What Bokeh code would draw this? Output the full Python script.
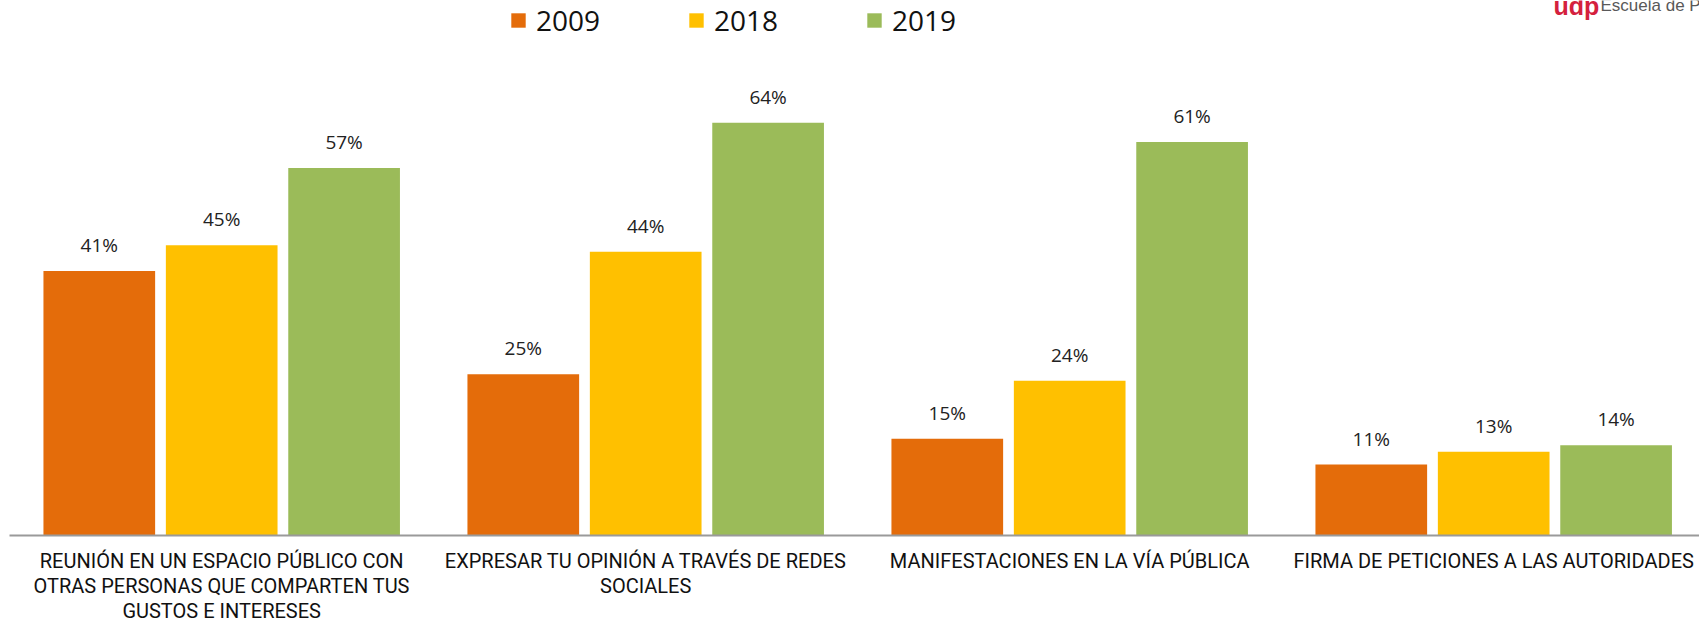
from bokeh.plotting import figure
from bokeh.models import ColumnDataSource, Range1d, FixedTicker, Legend, LegendItem, Label, LabelSet
from bokeh.transform import dodge
from bokeh.core.properties import value
from bokeh.embed import file_html
from bokeh.resources import INLINE

# ---- data ----
categories = [
    "REUNIÓN EN UN ESPACIO PÚBLICO CON\nOTRAS PERSONAS QUE COMPARTEN TUS\nGUSTOS E INTERESES",
    "EXPRESAR TU OPINIÓN A TRAVÉS DE REDES\nSOCIALES",
    "MANIFESTACIONES EN LA VÍA PÚBLICA",
    "FIRMA DE PETICIONES A LAS AUTORIDADES",
]
years = ["2009", "2018", "2019"]
v2009 = [41, 25, 15, 11]
v2018 = [45, 44, 24, 13]
v2019 = [57, 64, 61, 14]
colors = ["#E46C0A", "#FFC000", "#9BBB59"]

series = [v2009, v2018, v2019]
centers = [i + 0.5 for i in range(len(categories))]

W, H = 1699, 623
p = figure(width=W, height=H, output_backend="svg", toolbar_location=None,
           x_range=Range1d(-0.0217, 3.9854), y_range=Range1d(-13.64, 82.95),
           y_axis_location=None, min_border_left=0, min_border_right=0,
           min_border_top=0, min_border_bottom=0)
p.outline_line_color = None
p.grid.visible = False
p.background_fill_color = "white"
p.border_fill_color = "white"

offsets = [-0.2887, 0.0, 0.2887]
bar_w = 0.2634
renderers = []
for yr, vals, col, off in zip(years, series, colors, offsets):
    src = ColumnDataSource(dict(x=centers, v=vals, lbl=[f"{v}%" for v in vals]))
    r = p.vbar(x=dodge("x", off, range=p.x_range), top="v", bottom=0, width=bar_w, source=src,
               fill_color=col, line_color=None)
    renderers.append(r)
    ls = LabelSet(x=dodge("x", off, range=p.x_range), y="v", text="lbl", source=src,
                  y_offset=19, text_align="center", text_baseline="alphabetic",
                  text_font=value("Open Sans"), text_font_size="19px", text_color="#222222")
    p.add_layout(ls)

ax = p.xaxis[0]
ax.fixed_location = 0
ax.bounds = (0.0, 3.9854)
ax.ticker = FixedTicker(ticks=centers)
ax.major_label_overrides = {c: lab for c, lab in zip(centers, categories)}
ax.major_tick_line_color = None
ax.minor_tick_line_color = None
ax.axis_line_color = "#9a9a9a"
ax.axis_line_width = 2
ax.major_label_standoff = 7
ax.major_label_text_font = "Roboto"
ax.major_label_text_font_size = "20px"
ax.major_label_text_color = "#111111"
ax.major_label_text_line_height = 1.05

legend = Legend(items=[LegendItem(label=y, renderers=[r]) for y, r in zip(years, renderers)],
                orientation="horizontal", location=(509, 584),
                glyph_width=18, glyph_height=18, label_standoff=9, spacing=87,
                padding=0, margin=0, border_line_alpha=0, background_fill_alpha=0,
                label_text_font="Open Sans", label_text_font_size="28px",
                label_text_color="#111111")
p.add_layout(legend)

p.add_layout(Label(x=1553, y=618, x_units="screen", y_units="screen", text="udp",
                   text_font="Liberation Sans", text_font_style="bold", text_font_size="25px",
                   text_color="#D4213D", text_baseline="alphabetic"))
p.add_layout(Label(x=1600, y=618, x_units="screen", y_units="screen", text="Escuela de Periodismo",
                   text_font="Liberation Sans", text_font_size="17px",
                   text_color="#595959", text_baseline="alphabetic"))

open("out.html", "w").write(file_html(p, INLINE))
